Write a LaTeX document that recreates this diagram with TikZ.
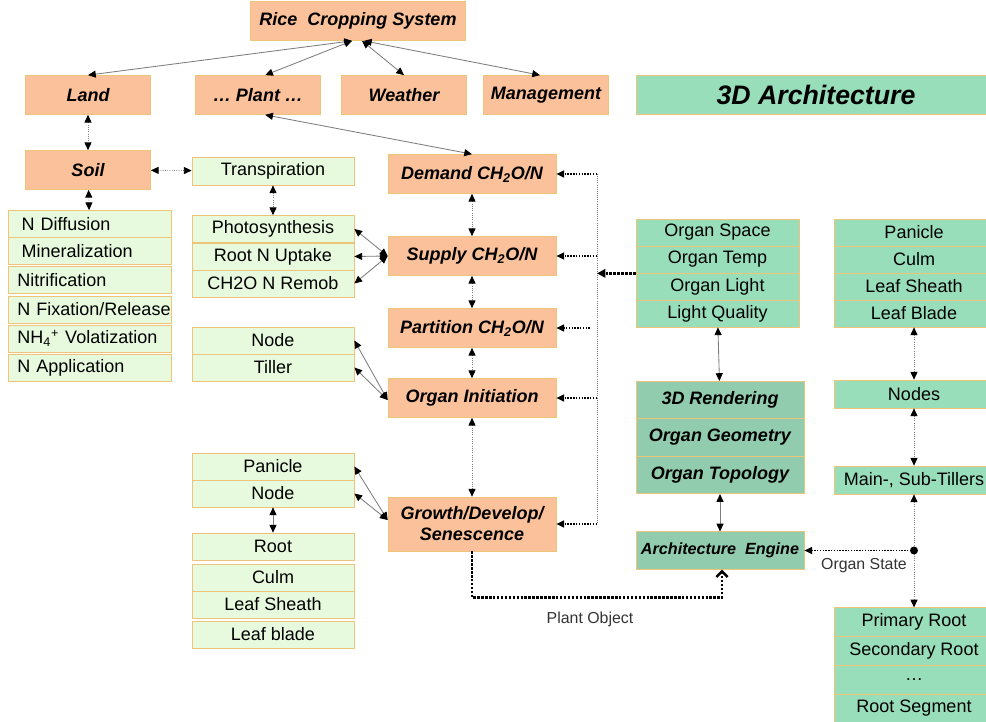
\documentclass[tikz,border=0pt]{standalone}
\usepackage{fontspec}
\setmainfont{Liberation Sans}
\usepackage{tikz}
\usetikzlibrary{arrows.meta, positioning, calc}
\definecolor{cropcolor}{RGB}{251,193,154}
\definecolor{boxline}{RGB}{238,196,120}
\definecolor{leafcolor}{RGB}{232,250,222}
\definecolor{archcolor}{RGB}{152,222,186}
\definecolor{enginecolor}{RGB}{146,204,174}
\definecolor{linkgray}{RGB}{125,125,125}

\begin{document}
\begin{tikzpicture}[x=0.025cm, y=-0.025cm,
    crop/.style={draw=boxline, line width=0.5pt, fill=cropcolor, font=\fontsize{12.8}{15}\selectfont\bfseries\itshape, minimum width=3.125cm, minimum height=0.975cm, inner sep=1pt},
    proc/.style={crop, minimum width=4.2cm},
    leaf/.style={draw=boxline, line width=0.5pt, fill=leafcolor, font=\fontsize{12.8}{15}\selectfont, minimum width=4.05cm, minimum height=0.675cm, inner sep=1pt},
    soilrow/.style={leaf, text width=3.6cm, align=left, inner xsep=0.24cm},
    arch/.style={draw=boxline, line width=0.5pt, fill=archcolor, font=\fontsize{12.8}{15}\selectfont, minimum width=4.075cm, minimum height=0.675cm, inner sep=1pt},
    archcol/.style={arch, minimum width=4cm},
    engine/.style={draw=boxline, line width=0.5pt, fill=enginecolor, font=\fontsize{12.8}{15}\selectfont\bfseries\itshape, minimum width=4.2cm, minimum height=0.935cm, inner sep=1pt},
    link/.style={{Triangle[length=5.5pt,width=5pt,color=black]}-{Triangle[length=5.5pt,width=5pt,color=black]}, draw=linkgray, line width=0.6pt},
    dlink/.style={link, densely dotted},
    feed/.style={-{Triangle[length=5.5pt,width=5pt]}, black, densely dotted, line width=1pt},
    lbl/.style={font=\fontsize{11.3}{13}\selectfont, text=black!80}]

    \useasboundingbox (0,0) rectangle (986,722);

    % Cropping system level
    \node[crop, minimum width=5.375cm] (rice) at (358,21) {Rice\ \ Cropping System};
    \node[crop] (land) at (88,95) {Land};
    \node[crop] (plant) at (258,95) {… Plant …};
    \node[crop] (weather) at (404,95) {Weather};
    \node[crop] (manage) at (546,95) {Management};
    \node[draw=boxline, line width=0.5pt, fill=archcolor, font=\fontsize{19}{22}\selectfont\bfseries\itshape, minimum width=9cm, minimum height=0.975cm] (arch3d) at (816,95) {3D Architecture};

    % Soil processes
    \node[crop] (soil) at (88,170) {Soil};
    \node[soilrow] (ndiff) at (89.5,224) {\hspace{3pt}N Diffusion};
    \node[soilrow] (minera) at (89.5,251) {\hspace{3pt}Mineralization};
    \node[soilrow] (nitri) at (89.5,280) {Nitrification};
    \node[soilrow] (nfix) at (89.5,309.5) {\mbox{N Fixation/Release}};
    \node[soilrow] (nvol) at (89.5,338.5) {NH\textsubscript{4}\textsuperscript{+} Volatization};
    \node[soilrow] (napp) at (89.5,367.5) {N Application};

    % Plant processes
    \node[leaf, minimum height=0.7cm] (transp) at (273,171) {Transpiration};
    \node[leaf] (photo) at (273,229) {Photosynthesis};
    \node[leaf] (rootn) at (273,256.5) {Root N Uptake};
    \node[leaf] (remob) at (273,283.5) {CH2O N Remob};
    \node[leaf] (node) at (273,340.5) {Node};
    \node[leaf] (tiller) at (273,367.5) {Tiller};
    \node[leaf] (panicle) at (273,466.5) {Panicle};
    \node[leaf] (nodeb) at (273,493.5) {Node};
    \node[leaf] (root) at (273,546.5) {Root};
    \node[leaf] (culm) at (273,577.5) {Culm};
    \node[leaf] (sheath) at (273,604.5) {Leaf Sheath};
    \node[leaf] (blade) at (273,634.5) {Leaf blade};

    % Carbon / nitrogen chain
    \node[proc] (demand) at (472,174) {Demand CH\textsubscript{2}O/N};
    \node[proc] (supply) at (472,256) {Supply CH\textsubscript{2}O/N};
    \node[proc] (partition) at (472,328) {Partition CH\textsubscript{2}O/N};
    \node[proc] (init) at (472,398) {Organ Initiation};
    \node[proc, minimum height=1.35cm, align=center] (growth) at (472,524) {Growth/Develop/\\Senescence};

    % Organ environment
    \node[arch] (ospace) at (717.5,232.5) {Organ Space};
    \node[arch] (otemp) at (717.5,259.5) {Organ Temp};
    \node[arch] (olight) at (717.5,286.5) {Organ Light};
    \node[arch] (oqual) at (717.5,313.5) {Light Quality};

    % Organ list
    \node[archcol] (rpanicle) at (914,232.5) {Panicle};
    \node[archcol] (rculm) at (914,259.5) {Culm};
    \node[archcol] (rsheath) at (914,286.5) {Leaf Sheath};
    \node[archcol] (rblade) at (914,313.5) {Leaf Blade};
    \node[archcol, minimum height=0.7cm] (rnodes) at (914,394) {Nodes};
    \node[archcol, minimum height=0.7cm] (tillers) at (914,480) {Main-, Sub-Tillers};
    \node[archcol, minimum height=0.71cm] (proot) at (914,622) {Primary Root};
    \node[archcol, minimum height=0.71cm] (sroot) at (914,651) {Secondary Root};
    \node[archcol, minimum height=0.71cm] (moreroot) at (914,680) {…};
    \node[archcol, minimum height=0.71cm] (segroot) at (914,708.5) {Root Segment};

    % Rendering stack
    \node[engine] (render) at (720,400) {3D Rendering};
    \node[engine] (geom) at (720,437.5) {Organ Geometry};
    \node[engine] (topo) at (720,475) {Organ Topology};
    \node[engine, font=\fontsize{11.5}{14}\selectfont\bfseries\itshape] (archeng) at (720,550.5) {Architecture\ \ Engine};

    % Upper links
    \draw[link] ([xshift=-0.15cm]rice.south) -- (land.north);
    \draw[link] ([xshift=-0.15cm]rice.south) -- ([xshift=0.18cm]plant.north);
    \draw[link] ([xshift=0.1cm]rice.south) -- (weather.north);
    \draw[link] ([xshift=0.15cm]rice.south) -- ([xshift=-0.15cm]manage.north);
    \draw[link] ([xshift=0.18cm]plant.south) -- (demand.north);
    \draw[dlink] (land) -- (soil);
    \draw[dlink] (soil) -- (transp);
    \draw[dlink] (soil) -- (ndiff);
    \draw[dlink] (transp) -- (photo);

    % Chain links
    \draw[dlink] (demand) -- (supply);
    \draw[dlink] (supply) -- (partition);
    \draw[dlink] (partition) -- (init);
    \draw[dlink] (init) -- (growth);
    \draw[link] (supply.west) -- (photo.east);
    \draw[link] (supply.west) -- (rootn.east);
    \draw[link] (supply.west) -- (remob.east);
    \draw[link] ([yshift=-0.05cm]init.west) -- (node.east);
    \draw[link] ([yshift=-0.05cm]init.west) -- (tiller.east);
    \draw[link] ([yshift=0.1cm]growth.west) -- (panicle.east);
    \draw[link] ([yshift=0.1cm]growth.west) -- (nodeb.east);
    \draw[link] (nodeb) -- (root);

    % Feedback bus
    \coordinate (bustop) at (597,174);
    \coordinate (busbot) at (597,524);
    \draw[linkgray, densely dotted, line width=0.5pt] (bustop) -- (busbot);
    \draw[feed] (bustop) -- (demand.east);
    \draw[feed] (bustop |- supply.east) -- (supply.east);
    \draw[feed] ([xshift=-0.18cm]bustop |- partition.east) -- (partition.east);
    \draw[feed] (bustop |- init.east) -- (init.east);
    \draw[feed] (busbot) -- (growth.east);
    \draw[feed, line width=1.8pt, -{Triangle[length=6pt,width=6pt]}] (otemp.south west) -- (bustop |- otemp.south west);

    % Architecture links
    \draw[link] (oqual) -- (render);
    \draw[link] (topo) -- (archeng);
    \draw[dlink] (rblade) -- (rnodes);
    \draw[dlink] (rnodes) -- (tillers);
    \draw[dlink] (tillers) -- (proot);
    \coordinate (ostate) at (914,550.5);
    \fill (ostate) circle (4);
    \draw[feed] (ostate) -- (archeng.east);
    \node[lbl] (statelbl) at (864,566) {Organ State};

    % Plant object
    \draw[densely dotted, line width=1.8pt, -{Straight Barb[length=4pt,width=8pt]}] (growth.south) -- ++(0,46) -| ([xshift=0.05cm]archeng.south);
    \node[lbl] (objlbl) at (590,619) {Plant Object};
\end{tikzpicture}
\end{document}
